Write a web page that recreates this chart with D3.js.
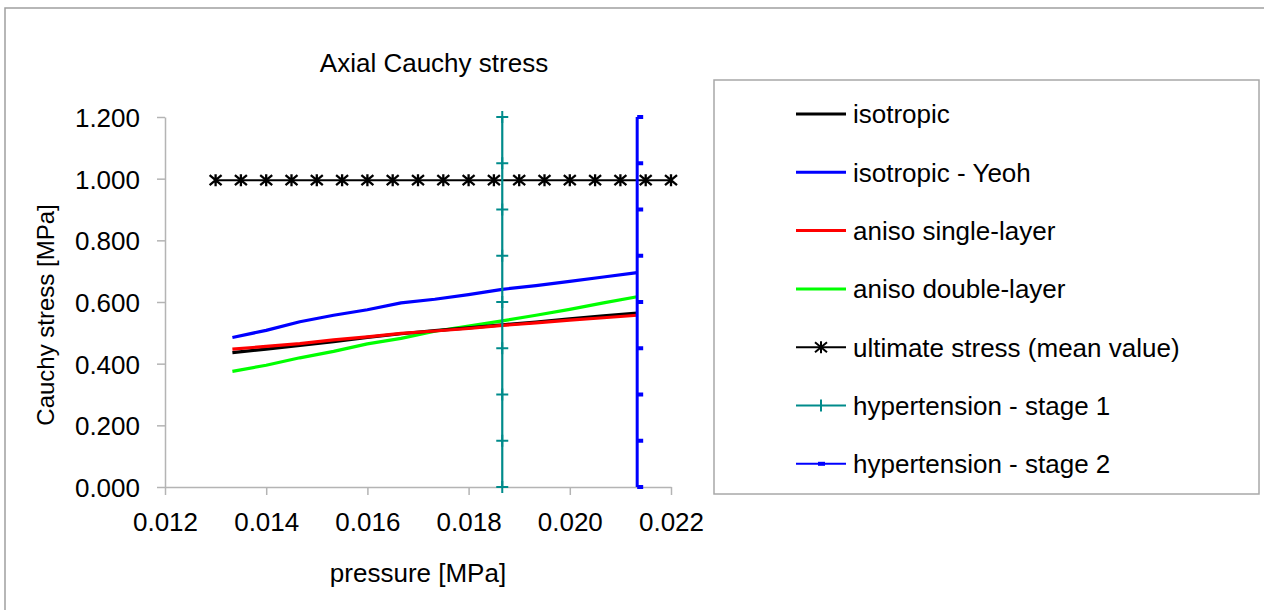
<!DOCTYPE html>
<html>
<head>
<meta charset="utf-8">
<script src="https://cdn.jsdelivr.net/npm/d3@7"></script>
<style>
  html, body { margin: 0; padding: 0; background: #fff; }
  svg { display: block; font-family: "Liberation Sans", Arial, sans-serif; }
</style>
</head>
<body>
<svg id="chart" width="1264" height="610"></svg>
<script>
// ---- data ----
const chartTitle = "Axial Cauchy stress";
const xLabel = "pressure [MPa]";
const yLabel = "Cauchy stress [MPa]";
const pressure = [0.013332, 0.013999, 0.014665, 0.015332, 0.015999, 0.016665, 0.017332,
                  0.017998, 0.018665, 0.019332, 0.019998, 0.020665, 0.021331];
const isotropic      = [0.436, 0.447, 0.459, 0.471, 0.485, 0.497, 0.507, 0.516, 0.526, 0.535, 0.545, 0.555, 0.564];
const isotropicYeoh  = [0.485, 0.508, 0.536, 0.557, 0.575, 0.597, 0.609, 0.624, 0.641, 0.653, 0.667, 0.681, 0.695];
const anisoSingle    = [0.447, 0.456, 0.465, 0.477, 0.487, 0.498, 0.506, 0.514, 0.524, 0.532, 0.541, 0.549, 0.557];
const anisoDouble    = [0.375, 0.395, 0.419, 0.440, 0.464, 0.482, 0.505, 0.522, 0.539, 0.557, 0.576, 0.597, 0.617];
const ultimatePressure = [0.0130, 0.0135, 0.0140, 0.0145, 0.0150, 0.0155, 0.0160, 0.0165, 0.0170, 0.0175,
                          0.0180, 0.0185, 0.0190, 0.0195, 0.0200, 0.0205, 0.0210, 0.0215, 0.0220];
const ultimateStress = [0.995, 0.995, 0.995, 0.995, 0.995, 0.995, 0.995, 0.995, 0.995, 0.995,
                        0.995, 0.995, 0.995, 0.995, 0.995, 0.995, 0.995, 0.995, 0.995];
const stage1Pressure = 0.0186652;
const stage2Pressure = 0.0213317;
const stageStress = [0, 0.15, 0.30, 0.45, 0.60, 0.75, 0.90, 1.05, 1.20];
const xTicks = [0.012, 0.014, 0.016, 0.018, 0.020, 0.022];
const yTicks = [0, 0.2, 0.4, 0.6, 0.8, 1.0, 1.2];
const legendLabels = ["isotropic", "isotropic - Yeoh", "aniso single-layer", "aniso double-layer",
                      "ultimate stress (mean value)", "hypertension - stage 1", "hypertension - stage 2"];

// ---- layout ----
const svg = d3.select("#chart");
const plot = { left: 165, right: 671, top: 117, bottom: 487 };
const x = d3.scaleLinear().domain([0.012, 0.022]).range([plot.left, plot.right]);
const y = d3.scaleLinear().domain([0, 1.2]).range([plot.bottom, plot.top]);
const FONT = 26;
const axisColor = "#b4b4b4";

// outer frame (left and top edges visible)
svg.append("path").attr("d", "M5,620 L5,8 L1270,8")
  .attr("fill", "none").attr("stroke", "#a0a0a0").attr("stroke-width", 1.5);

// title
svg.append("text").attr("x", 434).attr("y", 72).attr("text-anchor", "middle")
  .attr("font-size", FONT).attr("fill", "#000").text(chartTitle);

// axes
const xAxis = d3.axisBottom(x).tickValues(xTicks).tickSize(8).tickSizeOuter(0).tickFormat(d3.format(".3f"));
const yAxis = d3.axisLeft(y).tickValues(yTicks).tickSize(8).tickSizeOuter(0).tickFormat(d3.format(".3f"));

const gx = svg.append("g").attr("transform", `translate(0,${plot.bottom})`).call(xAxis);
const gy = svg.append("g").attr("transform", `translate(${plot.left},0)`).call(yAxis);
[gx, gy].forEach(g => {
  g.select(".domain").attr("stroke", axisColor).attr("stroke-width", 1.5);
  g.selectAll(".tick line").attr("stroke", axisColor).attr("stroke-width", 1.5);
  g.selectAll(".tick text").attr("font-size", FONT).attr("fill", "#000")
    .attr("font-family", "'Liberation Sans', Arial, sans-serif");
});
gx.selectAll(".tick text").attr("dy", "1.25em");
gy.selectAll(".tick text").attr("x", -25).attr("dy", "0.36em");

// axis titles
svg.append("text").attr("x", 418).attr("y", 582).attr("text-anchor", "middle")
  .attr("font-size", FONT).text(xLabel);
svg.append("text").attr("transform", `translate(54,315) rotate(-90)`).attr("text-anchor", "middle")
  .attr("font-size", 24).text(yLabel);

// series lines
const line = d3.line().x(d => x(d[0])).y(d => y(d[1]));
const series = [
  { vals: isotropic, color: "#000000" },
  { vals: isotropicYeoh, color: "#0000ff" },
  { vals: anisoSingle, color: "#ff0000" },
  { vals: anisoDouble, color: "#00ff00" }
];
// draw order: green, blue, black, red on top of black
[series[3], series[1], series[0], series[2]].forEach(s => {
  svg.append("path").datum(pressure.map((p, i) => [p, s.vals[i]]))
    .attr("d", line).attr("fill", "none").attr("stroke", s.color)
    .attr("stroke-width", 3.2).attr("stroke-linejoin", "round");
});

// ultimate stress line with asterisk markers
const ultData = ultimatePressure.map((p, i) => [p, ultimateStress[i]]);
svg.append("path").datum(ultData).attr("d", line).attr("fill", "none")
  .attr("stroke", "#000").attr("stroke-width", 2);
const star = "M0,-6 L0,6 M-6,-5 L6,5 M-6,5 L6,-5";
svg.selectAll(".star").data(ultData).enter().append("path")
  .attr("transform", d => `translate(${x(d[0])},${y(d[1])})`)
  .attr("d", star).attr("fill", "none").attr("stroke", "#000").attr("stroke-width", 2.3);

// hypertension stage 1 (teal, plus markers)
const teal = "#008b8b";
const s1 = stageStress.map(v => [stage1Pressure, v]);
svg.append("path").datum(s1).attr("d", line).attr("fill", "none")
  .attr("stroke", teal).attr("stroke-width", 2.2);
svg.selectAll(".plus").data(s1).enter().append("path")
  .attr("transform", d => `translate(${x(d[0])},${y(d[1])})`)
  .attr("d", "M-6,0 L6,0 M0,-6 L0,6").attr("fill", "none")
  .attr("stroke", teal).attr("stroke-width", 2);

// hypertension stage 2 (blue, dash markers)
const s2 = stageStress.map(v => [stage2Pressure, v]);
svg.append("path").datum(s2).attr("d", line).attr("fill", "none")
  .attr("stroke", "#0000ff").attr("stroke-width", 3);
svg.selectAll(".dash").data(s2).enter().append("rect")
  .attr("x", d => x(d[0])).attr("y", d => y(d[1]) - 2)
  .attr("width", 6).attr("height", 4).attr("fill", "#0000ff");

// legend
svg.append("rect").attr("x", 714).attr("y", 80).attr("width", 545).attr("height", 414)
  .attr("fill", "#fff").attr("stroke", "#a8a8a8").attr("stroke-width", 1.5);
const legendColors = ["#000000", "#0000ff", "#ff0000", "#00ff00", "#000000", teal, "#0000ff"];
const legendY = i => 114 + i * 58.3;
legendLabels.forEach((lab, i) => {
  const ly = legendY(i);
  const g = svg.append("g");
  g.append("line").attr("x1", 796).attr("x2", 846).attr("y1", ly).attr("y2", ly)
    .attr("stroke", legendColors[i]).attr("stroke-width", i < 4 ? 3 : 2);
  if (i === 4) g.append("path").attr("transform", `translate(821,${ly})`).attr("d", star)
    .attr("fill", "none").attr("stroke", "#000").attr("stroke-width", 2);
  if (i === 5) g.append("path").attr("transform", `translate(821,${ly})`).attr("d", "M0,-6 L0,6")
    .attr("fill", "none").attr("stroke", teal).attr("stroke-width", 2);
  if (i === 6) g.append("rect").attr("x", 818).attr("y", ly - 2).attr("width", 7).attr("height", 4)
    .attr("fill", "#0000ff");
  g.append("text").attr("x", 853).attr("y", ly).attr("dy", "0.36em")
    .attr("font-size", FONT).text(lab);
});
</script>
</body>
</html>
